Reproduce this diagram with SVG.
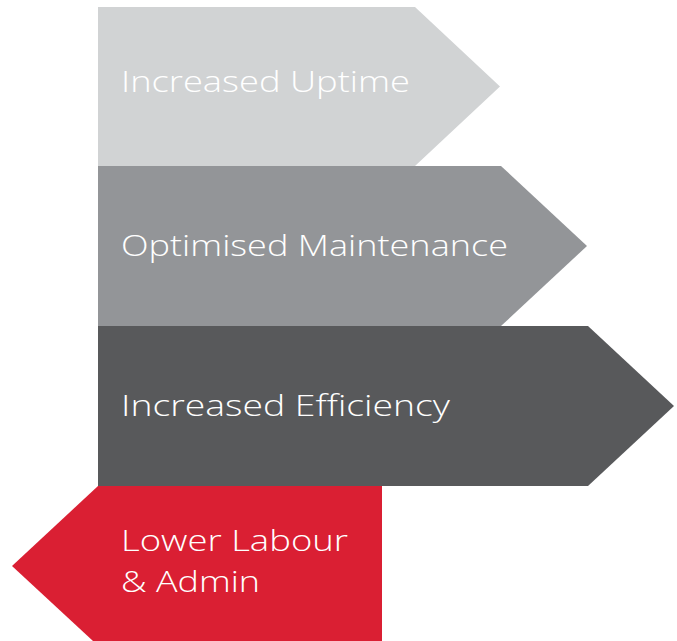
<svg xmlns="http://www.w3.org/2000/svg" width="677" height="641" viewBox="0 0 677 641">
<style>
.lbl{font-family:"Open Sans","Liberation Sans",sans-serif;font-size:30px;fill:#ffffff;font-weight:300}
</style>
<rect width="677" height="641" fill="#ffffff"/>
<g id="uptime">
<polygon points="98,7 415,7 500,86.5 415,166 98,166" fill="#d1d3d4"/>
<text class="lbl" x="121" y="92" textLength="289" lengthAdjust="spacingAndGlyphs">Increased Uptime</text>
</g>
<g id="maintenance">
<polygon points="98,166 501,166 587,246 501,326 98,326" fill="#939598"/>
<text class="lbl" x="121" y="256" textLength="387" lengthAdjust="spacingAndGlyphs">Optimised Maintenance</text>
</g>
<g id="efficiency">
<polygon points="98,326 588,326 674,406 588,486 98,486" fill="#58595b"/>
<text class="lbl" x="121" y="416" textLength="329" lengthAdjust="spacingAndGlyphs">Increased Efficiency</text>
</g>
<g id="labour">
<polygon points="98,486 382,486 382,641 93,641 12,566" fill="#da1f33"/>
<text class="lbl" x="121" y="551" textLength="227" lengthAdjust="spacingAndGlyphs">Lower Labour</text>
<text class="lbl" x="121" y="592" textLength="139" lengthAdjust="spacingAndGlyphs">&amp; Admin</text>
</g>
<g id="connectors"/>
</svg>
